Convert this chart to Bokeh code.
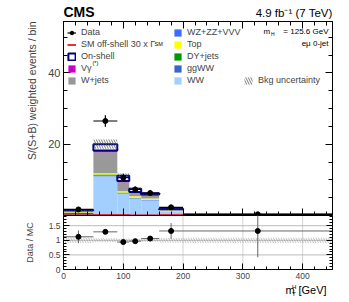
import numpy as np
from bokeh.plotting import figure
from bokeh.layouts import column
from bokeh.models import (ColumnDataSource, Legend, LegendItem, Label, LinearAxis,
                          FixedTicker, Range1d, PrintfTickFormatter, Title)
from bokeh.embed import file_html
from bokeh.resources import INLINE

FONT = "Liberation Sans"

# ---------------- data ----------------
edges    = [0, 50, 90, 110, 130, 160, 200, 450]
ww       = [0.35, 11.0, 6.2, 4.8, 4.2, 1.05, 0.15]
ggww     = [0.05, 0.15, 0.10, 0.10, 0.08, 0.05, 0.01]
vvv      = [0.03, 0.10, 0.05, 0.05, 0.04, 0.03, 0.01]
dy       = [0.35, 0.25, 0.10, 0.05, 0.05, 0.02, 0.01]
top      = [0.10, 0.35, 0.35, 0.40, 0.40, 0.25, 0.04]
wjets    = [0.55, 5.90, 2.50, 1.00, 1.00, 0.30, 0.03]
vgamma   = [0.05, 0.45, 0.35, 0.20, 0.15, 0.05, 0.00]
onshell  = [0.02, 1.80, 1.50, 0.90, 0.30, 0.05, 0.00]
offshell = [0.08, 0.15, 0.10, 0.08, 0.08, 0.10, 0.12]
data     = [1.70, 26.5, 10.6, 7.30, 6.30, 2.30, 0.33]
data_err = [0.30, 1.60, 1.10, 0.80, 0.70, 0.45, 0.20]
bkg_unc  = [0.15, 1.30, 0.60, 0.35, 0.30, 0.15, 0.03]
ratio     = [1.12, 1.29, 0.94, 0.97, 1.06, 1.32, 1.32]
ratio_err = [0.22, 0.06, 0.06, 0.07, 0.08, 0.27, 0.90]
ratio_unc = [0.09, 0.07, 0.06, 0.05, 0.06, 0.08, 0.09]

components = [
    ("WW", ww, "#a3cfff"),
    ("ggWW", ggww, "#3767cc"),
    ("WZ+ZZ+VVV", vvv, "#3d6bff"),
    ("DY+jets", dy, "#009900"),
    ("Top", top, "#ffff00"),
    ("W+jets", wjets, "#999999"),
    ("Vγ", vgamma, "#cc00cc"),
]

# ---------------- page geometry ----------------
W = 349
FL, FR = 63, 332          # frame left / right (page px)
HEAD = 21                 # header strip height
T_TOP, T_BOT = 21, 215    # top panel frame
B_TOP, B_BOT = 215, 269   # ratio panel frame
FOOT = 281                # footer strip top
X0, X1 = 0, 450
Y1_END = 54.4
Y2_END = 1.85


def ty(py):
    return (T_BOT - py) / (T_BOT - T_TOP) * Y1_END


def tx(px):
    return X0 + (px - FL) / (FR - FL) * (X1 - X0)


left = np.array(edges[:-1], dtype=float)
right = np.array(edges[1:], dtype=float)
centers = (left + right) / 2


def strip(y0, y1):
    # frame is aligned with the panels' frames by the column layout (FL..FR)
    f = figure(width=W, height=y1 - y0, x_range=Range1d(FL, FR), y_range=Range1d(y1, y0),
               title=None, output_backend="svg", toolbar_location=None,
               min_border_left=FL, min_border_right=W - FR,
               min_border_top=0, min_border_bottom=0,
               x_axis_location=None, y_axis_location=None)
    f.outline_line_color = None
    f.xgrid.visible = False
    f.ygrid.visible = False
    f.background_fill_color = "white"
    f.border_fill_color = "white"
    return f


def slab(fig, text, x, y, size="8.5px", align="left", style="normal"):
    fig.add_layout(Label(x=x, y=y, text=text, text_font=FONT, text_font_size=size,
                         text_align=align, text_baseline="middle",
                         text_font_style=style, text_color="black"))


# ---------------- header ----------------
head = strip(0, HEAD)
slab(head, "CMS", 63, 11, size="14px", style="bold")
slab(head, "4.9 fb⁻¹ (7 TeV)", 332, 12.5, size="11.5px", align="right")

# ---------------- top panel ----------------
p = figure(width=W, height=T_BOT - T_TOP, x_range=Range1d(X0, X1), y_range=Range1d(0, Y1_END),
           output_backend="svg", toolbar_location=None,
           min_border_left=FL, min_border_right=W - FR,
           min_border_top=0, min_border_bottom=0,
           x_axis_location=None, y_axis_location=None)
p.outline_line_color = "black"
p.outline_line_width = 1
p.xgrid.visible = False
p.ygrid.visible = False
p.background_fill_color = "white"
p.border_fill_color = "white"

renderers = {}
base = np.zeros(len(left))
for name, vals, col in components:
    v = np.array(vals)
    src = ColumnDataSource(dict(left=left, right=right, bottom=base.copy(), top=base + v))
    renderers[name] = p.quad(left="left", right="right", bottom="bottom", top="top",
                             source=src, fill_color=col, line_color=None)
    base = base + v

on = np.array(onshell)
src_on = ColumnDataSource(dict(left=left, right=right, bottom=base.copy(), top=base + on))
renderers["On-shell"] = p.quad(left="left", right="right", bottom="bottom", top="top",
                               source=src_on, fill_color="white", line_color="#000080",
                               line_width=2)
total = base + on

unc = np.array(bkg_unc)
src_unc = ColumnDataSource(dict(left=left, right=right, bottom=total - unc, top=total + unc))
renderers["unc"] = p.quad(left="left", right="right", bottom="bottom", top="top",
                          source=src_unc, fill_alpha=0, line_color=None,
                          hatch_pattern="\\", hatch_color="#555555", hatch_scale=5,
                          hatch_weight=0.8)

xs = np.repeat(edges, 2)[1:-1]
ys = np.repeat(offshell, 2)
renderers["off"] = p.line(xs, ys, line_color="#dd0000", line_width=1.6)

d = np.array(data)
de = np.array(data_err)
src_d = ColumnDataSource(dict(x=centers, y=d, l=left, r=right, lo=d - de, hi=d + de))
xr = p.segment(x0="l", x1="r", y0="y", y1="y", source=src_d, line_color="black", line_width=1.2)
p.segment(x0="x", x1="x", y0="lo", y1="hi", source=src_d, line_color="black", line_width=1.2)
dots = p.scatter("x", "y", source=src_d, size=5, color="black")


def style_axis(ax, ticks, labels=True, size="11px", tin=7, mtin=4):
    ax.major_tick_in = tin
    ax.major_tick_out = 0
    ax.minor_tick_in = mtin
    ax.minor_tick_out = 0
    ax.axis_line_color = "black"
    ax.major_label_text_font = FONT
    if labels:
        ax.major_label_text_font_size = size
        ax.major_label_standoff = 3
    else:
        ax.major_label_overrides = {t: "" for t in ticks}
        ax.major_label_text_font_size = "1px"
        ax.major_label_standoff = 0


xticks = [0, 100, 200, 300, 400]
yticks = [0, 20, 40]
xt = FixedTicker(ticks=xticks, minor_ticks=list(range(0, 451, 20)))
yt = FixedTicker(ticks=yticks, minor_ticks=list(range(0, 55, 5)))

ax_l = LinearAxis(ticker=yt, major_label_overrides={0: ""})
style_axis(ax_l, yticks, True, "11px")
p.add_layout(ax_l, "left")
for place, tk, tl in (("right", yt, yticks), ("below", xt, xticks), ("above", xt, xticks)):
    a = LinearAxis(ticker=tk)
    style_axis(a, tl, False)
    p.add_layout(a, place)

p.add_layout(Title(text="S/(S+B) weighted events / bin", align="right", text_font=FONT,
                   text_font_size="10.5px", text_font_style="normal", standoff=16), "left")

LEG_FS = "9px"


def make_legend(items, x, y, gw=9):
    lg = Legend(items=items, location=(x, y), orientation="vertical")
    lg.glyph_width = gw
    lg.glyph_height = 9
    lg.label_height = 9
    lg.spacing = 2
    lg.padding = 0
    lg.margin = 0
    lg.label_standoff = 5
    lg.label_text_font = FONT
    lg.label_text_font_size = LEG_FS
    lg.border_line_color = None
    lg.background_fill_alpha = 0
    return lg


LEG_Y = 130
leg1 = make_legend([
    LegendItem(label="Data", renderers=[xr, dots]),
    LegendItem(label="SM off-shell 30 x Γ", renderers=[renderers["off"]]),
    LegendItem(label="On-shell", renderers=[renderers["On-shell"]]),
    LegendItem(label="Vγ", renderers=[renderers["Vγ"]]),
    LegendItem(label="W+jets", renderers=[renderers["W+jets"]]),
], 4, LEG_Y)
leg2 = make_legend([
    LegendItem(label="WZ+ZZ+VVV", renderers=[renderers["WZ+ZZ+VVV"]]),
    LegendItem(label="Top", renderers=[renderers["Top"]]),
    LegendItem(label="DY+jets", renderers=[renderers["DY+jets"]]),
    LegendItem(label="ggWW", renderers=[renderers["ggWW"]]),
    LegendItem(label="WW", renderers=[renderers["WW"]]),
], 110, LEG_Y)
leg3 = make_legend([
    LegendItem(label="Bkg uncertainty", renderers=[renderers["unc"]]),
], 180, LEG_Y, gw=10)
for lg in (leg1, leg2, leg3):
    p.add_layout(lg, "center")


def lab(text, px, py, size="8.5px", align="left"):
    p.add_layout(Label(x=tx(px), y=ty(py), text=text, text_font=FONT, text_font_size=size,
                       text_align=align, text_baseline="middle", text_color="black"))


lab("SM", 154, 43, size="5.5px")
lab("(*)", 92, 62.5, size="5.5px")
lab("= 125.6 GeV", 328, 30.5, size="8px", align="right")
lab("m", 263, 30.5, size="8px")
lab("H", 270.5, 33, size="5px")
lab("eμ 0-jet", 328, 43, size="8px", align="right")

# ---------------- ratio panel ----------------
q = figure(width=W, height=FOOT - B_TOP, x_range=p.x_range, y_range=Range1d(0, Y2_END),
           output_backend="svg", toolbar_location=None,
           min_border_left=FL, min_border_right=W - FR,
           min_border_top=0, min_border_bottom=FOOT - B_BOT,
           x_axis_location=None, y_axis_location=None)
q.outline_line_color = "black"
q.background_fill_color = "white"
q.border_fill_color = "white"
q.xgrid.visible = False
q.ygrid.visible = False

ru = np.array(ratio_unc)
src_ru = ColumnDataSource(dict(left=left, right=right, bottom=1 - ru, top=1 + ru))
q.quad(left="left", right="right", bottom="bottom", top="top", source=src_ru,
       fill_alpha=0, line_color=None, hatch_pattern="\\", hatch_color="#aaaaaa",
       hatch_scale=5, hatch_weight=0.7)

ref_y = [0.5, 1.0, 1.5]
q.segment(x0=[X0] * 3, x1=[X1] * 3, y0=ref_y, y1=ref_y, line_color="#777777",
          line_dash="1 1", line_width=1)
ref_x = [100, 200, 300, 400]
q.segment(x0=ref_x, x1=ref_x, y0=[0] * 4, y1=[Y2_END] * 4, line_color="#aaaaaa",
          line_dash="1 1", line_width=1)

r = np.array(ratio)
re_ = np.array(ratio_err)
src_r = ColumnDataSource(dict(x=centers, y=r, l=left, r=right, lo=r - re_, hi=r + re_))
q.segment(x0="l", x1="r", y0="y", y1="y", source=src_r, line_color="#666666", line_width=1)
q.segment(x0="x", x1="x", y0="lo", y1="hi", source=src_r, line_color="#666666", line_width=1)
q.scatter("x", "y", source=src_r, size=5, color="black")

rticks = [0, 0.5, 1, 1.5]
rt = FixedTicker(ticks=rticks, minor_ticks=[i / 10 for i in range(0, 19)])
bx_l = LinearAxis(ticker=rt, formatter=PrintfTickFormatter(format="%g"),
                  axis_label="Data / MC")
style_axis(bx_l, rticks, True, "8.5px", tin=6, mtin=3)
bx_l.axis_label_text_font = FONT
bx_l.axis_label_text_font_size = "9px"
bx_l.axis_label_text_font_style = "normal"
bx_l.axis_label_standoff = 11
q.add_layout(bx_l, "left")
bx_r = LinearAxis(ticker=rt)
style_axis(bx_r, rticks, False, tin=6, mtin=3)
q.add_layout(bx_r, "right")
bx_b = LinearAxis(ticker=xt)
style_axis(bx_b, xticks, True, "8.5px", tin=6, mtin=3)
q.add_layout(bx_b, "below")

# ---------------- footer (x axis title m_T^H [GeV]) ----------------
foot = strip(FOOT, 302)
slab(foot, "m", 285, 289, size="11px")
slab(foot, "H", 291.5, 286, size="6px")
slab(foot, "T", 291.5, 293, size="6px")
slab(foot, "[GeV]", 298, 289, size="11px")

layout = column(head, p, q, foot, spacing=0)
open("out.html", "w").write(file_html(layout, INLINE))
